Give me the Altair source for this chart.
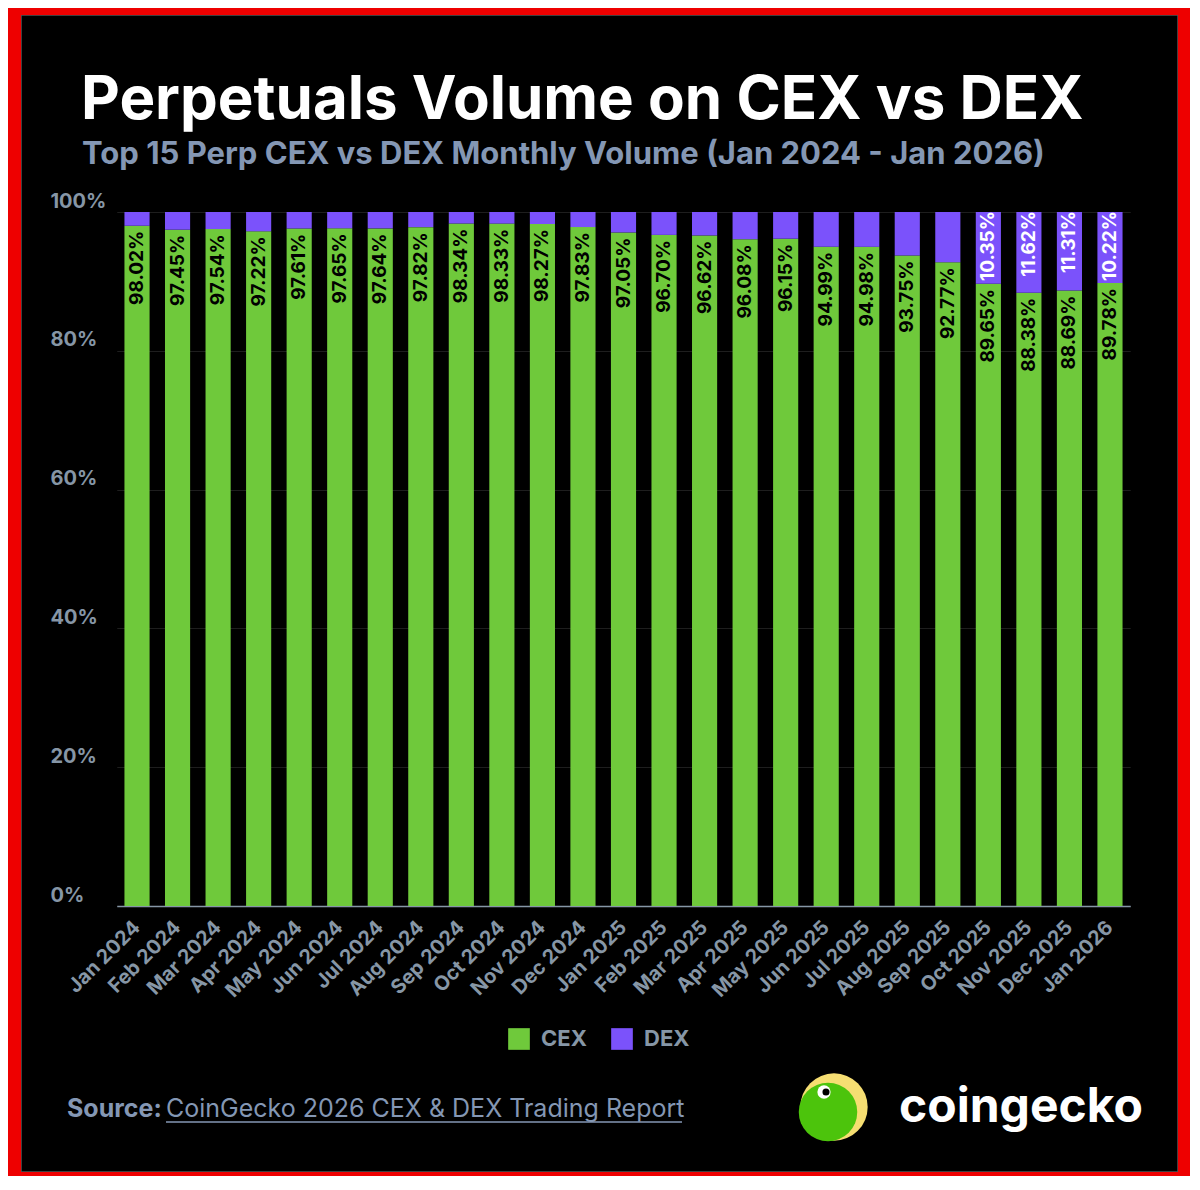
import altair as alt
import pandas as pd

months = ["Jan 2024", "Feb 2024", "Mar 2024", "Apr 2024", "May 2024", "Jun 2024",
          "Jul 2024", "Aug 2024", "Sep 2024", "Oct 2024", "Nov 2024", "Dec 2024",
          "Jan 2025", "Feb 2025", "Mar 2025", "Apr 2025", "May 2025", "Jun 2025",
          "Jul 2025", "Aug 2025", "Sep 2025", "Oct 2025", "Nov 2025", "Dec 2025",
          "Jan 2026"]
cex = [98.02, 97.45, 97.54, 97.22, 97.61, 97.65, 97.64, 97.82, 98.34, 98.33, 98.27, 97.83,
       97.05, 96.70, 96.62, 96.08, 96.15, 94.99, 94.98, 93.75, 92.77, 89.65, 88.38, 88.69,
       89.78]
dex = [1.98, 2.55, 2.46, 2.78, 2.39, 2.35, 2.36, 2.18, 1.66, 1.67, 1.73, 2.17,
       2.95, 3.30, 3.38, 3.92, 3.85, 5.01, 5.02, 6.25, 7.23, 10.35, 11.62, 11.31,
       10.22]
series = ["CEX", "DEX"]
y_ticks = [0, 20, 40, 60, 80, 100]

GREEN = "#6fc93b"
PURPLE = "#7b52fb"
AXIS_GRAY = "#8696a6"
SUB_BLUE = "#8497b4"
FONT = "Inter"

rows = []
for m, c, d in zip(months, cex, dex):
    rows.append({"month": m, "series": "CEX", "start": 0.0, "end": c, "label": f"{c:.2f}%"})
    rows.append({"month": m, "series": "DEX", "start": c, "end": c + d, "label": f"{d:.2f}%"})
bars_df = pd.DataFrame(rows)
cex_lab = bars_df[bars_df.series == "CEX"]
dex_lab = bars_df[(bars_df.series == "DEX") & (bars_df["end"] - bars_df["start"] >= 10)]

W, H = 1090, 694

xscale = alt.Scale(range=[66.75, 1080.25], paddingInner=0.38, paddingOuter=0.19)
x_enc = alt.X("month:N", sort=months, scale=xscale,
              axis=alt.Axis(title=None, labelAngle=315, labelAlign="right",
                            labelBaseline="middle", labelPadding=18, ticks=False,
                            domain=True, domainColor=AXIS_GRAY, domainWidth=1.5,
                            labelFont=FONT, labelFontSize=20, labelFontWeight="bold",
                            labelColor=AXIS_GRAY, grid=False))
y_enc = alt.Y("start:Q", scale=alt.Scale(domain=[0, 100], nice=False),
              axis=alt.Axis(title=None, values=y_ticks, labelExpr="datum.value + '%'",
                            grid=True, gridColor="#1e1e1e", gridWidth=1,
                            domain=False, ticks=False, tickSize=0,
                            labelAlign="left", labelPadding=0, labelBaseline="alphabetic",
                            labelOffset=-5, labelFont=FONT, labelFontSize=20,
                            labelFontWeight="bold", labelColor=AXIS_GRAY))

bars = alt.Chart(bars_df).mark_bar().encode(
    x=x_enc,
    y=y_enc,
    y2="end:Q",
    color=alt.Color("series:N", scale=alt.Scale(domain=series, range=[GREEN, PURPLE]),
                    legend=alt.Legend(orient="none", legendX=458, legendY=816,
                                      direction="horizontal", title=None,
                                      symbolType="square", symbolSize=470,
                                      symbolStrokeWidth=0, symbolOpacity=1,
                                      labelFont=FONT, labelFontSize=22,
                                      labelFontWeight="bold", labelColor=AXIS_GRAY,
                                      labelOffset=11, columnPadding=24, padding=0)),
)

cex_text = alt.Chart(cex_lab).mark_text(
    angle=270, align="right", baseline="middle", dx=-5,
    font=FONT, fontSize=19, fontWeight="bold", color="#000000"
).encode(x=alt.X("month:N", sort=months), y=alt.Y("end:Q"), text="label:N")

dex_text = alt.Chart(dex_lab).mark_text(
    angle=270, align="right", baseline="middle", dx=1,
    font=FONT, fontSize=19, fontWeight="bold", color="#ffffff"
).encode(x=alt.X("month:N", sort=months), y=alt.Y("end:Q"), text="label:N")

one = pd.DataFrame({"k": [0]})

def txt(s, x, y, size, color, weight="bold", align="left"):
    return alt.Chart(one).mark_text(
        align=align, baseline="alphabetic", font=FONT, fontSize=size,
        fontWeight=weight, color=color
    ).encode(x=alt.value(x), y=alt.value(y), text=alt.value(s))

title = txt("Perpetuals Volume on CEX vs DEX", 31, -93, 60, "#ffffff")
subtitle = txt("Top 15 Perp CEX vs DEX Monthly Volume (Jan 2024 - Jan 2026)", 32, -48, 31, SUB_BLUE)
src_a = txt("Source:", 17, 905, 25, SUB_BLUE)
src_b = txt("CoinGecko 2026 CEX & DEX Trading Report", 116, 905, 25, SUB_BLUE, weight="normal")
underline = alt.Chart(one).mark_rule(color=SUB_BLUE, strokeWidth=1.5).encode(
    x=alt.value(116), x2=alt.value(632), y=alt.value(910))
brand = txt("coingecko", 849, 910, 48, "#ffffff")

def dot(x, y, d, color):
    return alt.Chart(one).mark_point(filled=True, shape="circle", size=3.1416 * (d / 2) ** 2,
                                     color=color, opacity=1, strokeWidth=0).encode(
        x=alt.value(x), y=alt.value(y))

logo = (dot(784, 895, 76, "#f6de72") + dot(778, 900, 66, "#4cc40c")
        + dot(774, 880, 15, "#ffffff") + dot(776, 880, 8, "#000000"))

border_red = alt.Chart(one).mark_rect(fillOpacity=0, stroke="#ee0000", strokeWidth=40).encode(
    x=alt.value(-49), x2=alt.value(1148), y=alt.value(-217), y2=alt.value(980))
border_gray = alt.Chart(one).mark_rect(fillOpacity=0, stroke="#555555", strokeWidth=1.5).encode(
    x=alt.value(-29), x2=alt.value(1128), y=alt.value(-197), y2=alt.value(960))

chart = alt.layer(
    bars, cex_text, dex_text, title, subtitle, src_a, src_b, underline, brand, logo,
    border_gray, border_red
).properties(
    width=W, height=H,
    background="#000000",
    autosize=alt.AutoSizeParams(type="none"),
    padding={"left": 42, "top": 204, "right": 50, "bottom": 270},
).configure_view(stroke=None)

chart.save("out.html", embed_options={"renderer": "svg", "actions": False})
